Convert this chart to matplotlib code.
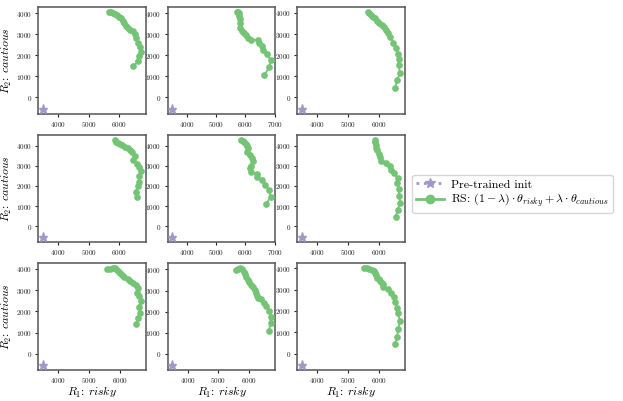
"""
Rewarded soups interpolation fronts, 3x3 grid of seeds.
Output: out.png
"""

import matplotlib
matplotlib.use("Agg")
import matplotlib.pyplot as plt

# ---------------------------------------------------------------------------
# Data: R1 risky vs R2 cautious, per panel
# ---------------------------------------------------------------------------

init_r1 = 3500
init_r2 = -540

rs_r1 = [
    # row 1
    [5650, 5730, 5790, 5850, 5920, 5990, 6050, 6110, 6160, 6210, 6280, 6360,
     6440, 6500, 6560, 6620, 6680, 6710, 6660, 6620, 6450],
    [5700, 5740, 5770, 5790, 5810, 5810, 5830, 5880, 5950, 6020, 6100, 6200,
     6440, 6460, 6560, 6600, 6740, 6860, 6820, 6650],
    [5650, 5700, 5760, 5820, 5880, 5950, 6020, 6100, 6180, 6250, 6310, 6380,
     6480, 6570, 6620, 6660, 6650, 6700, 6610, 6540],
    # row 2
    [5870, 5900, 5960, 6040, 6110, 6200, 6280, 6350, 6430, 6520, 6460, 6580,
     6650, 6720, 6670, 6650, 6620, 6560, 6580],
    [5860, 5920, 5960, 6010, 6040, 6080, 6060, 6150, 6210, 6260, 6180, 6170,
     6200, 6380, 6400, 6580, 6680, 6800, 6860, 6720],
    [5880, 5890, 5910, 5930, 5960, 6000, 6040, 6080, 6240, 6360, 6390, 6490,
     6620, 6600, 6650, 6680, 6700, 6620, 6560],
    # row 3
    [5590, 5700, 5780, 5840, 5900, 5950, 6010, 6080, 6160, 6260, 6340, 6430,
     6520, 6600, 6580, 6640, 6700, 6630, 6660, 6600, 6540],
    [5570, 5640, 5710, 5770, 5820, 5870, 5900, 5950, 6000, 6070, 6120, 6180,
     6230, 6260, 6280, 6400, 6500, 6540, 6650, 6700, 6700, 6650],
    [5540, 5620, 5700, 5780, 5840, 5880, 5920, 5960, 6000, 6060, 6120, 6160,
     6160, 6320, 6410, 6500, 6550, 6600, 6630, 6700, 6640, 6600, 6540],
]

rs_r2 = [
    # row 1
    [4060, 4080, 4040, 3980, 3920, 3850, 3760, 3640, 3520, 3420, 3320, 3230,
     3150, 3000, 2820, 2600, 2380, 2170, 1980, 1720, 1480],
    [4080, 4060, 4000, 3880, 3720, 3550, 3300, 3150, 3050, 2950, 2850, 2750,
     2720, 2600, 2440, 2260, 2050, 1790, 1440, 1070],
    [4060, 4000, 3920, 3830, 3740, 3640, 3540, 3440, 3330, 3200, 3050, 2880,
     2600, 2350, 2050, 1800, 1520, 1170, 830, 450],
    # row 2
    [4280, 4200, 4120, 4060, 4020, 3950, 3860, 3770, 3680, 3500, 3280, 3100,
     2930, 2730, 2470, 2190, 1980, 1710, 1460],
    [4280, 4240, 4180, 4080, 3980, 3860, 3660, 3520, 3400, 3220, 3000, 2880,
     2690, 2600, 2440, 2270, 2050, 1800, 1460, 1090],
    [4280, 4180, 4030, 3880, 3760, 3600, 3430, 3250, 3140, 2980, 2800, 2650,
     2390, 2130, 1850, 1510, 1140, 800, 470],
    # row 3
    [3980, 4000, 4020, 4030, 3980, 3900, 3800, 3700, 3600, 3520, 3440, 3340,
     3240, 3100, 2860, 2700, 2500, 2210, 1940, 1700, 1420],
    [3980, 4010, 4060, 4010, 3900, 3780, 3620, 3500, 3380, 3270, 3150, 3020,
     2880, 2760, 2660, 2580, 2420, 2260, 2050, 1740, 1480, 1100],
    [4000, 3990, 3970, 3930, 3860, 3780, 3690, 3560, 3480, 3400, 3320, 3260,
     3140, 3030, 2860, 2660, 2420, 2130, 1890, 1530, 1160, 770, 450],
]

xlabel = r"$R_1$: $\mathit{risky}$"
ylabel = r"$R_2$: $\mathit{cautious}$"
label_init = "Pre-trained init"
label_rs = (r"RS: $(1-\lambda)\cdot\theta_{risky}"
            r"+\lambda\cdot\theta_{cautious}$")

# ---------------------------------------------------------------------------
# Style
# ---------------------------------------------------------------------------

GREEN = "#74c476"
PURPLE = "#9e9ac8"
SPINE = "#555555"

plt.rcParams.update({
    "font.family": "serif",
    "font.serif": ["cmr10", "DejaVu Serif"],
    "mathtext.fontset": "cm",
    "axes.formatter.use_mathtext": True,
    "axes.edgecolor": SPINE,
    "axes.linewidth": 1.1,
    "xtick.labelsize": 5.2,
    "ytick.labelsize": 5.2,
    "xtick.major.size": 2.5,
    "ytick.major.size": 2.5,
    "xtick.major.pad": 2,
    "ytick.major.pad": 2,
})

fig, axes = plt.subplots(3, 3, figsize=(6.23, 4.01), dpi=100)
fig.subplots_adjust(left=0.061, right=0.650, bottom=0.077, top=0.983,
                    wspace=0.20, hspace=0.20)

for i, ax in enumerate(axes.flat):
    row, col = divmod(i, 3)
    ax.plot(rs_r1[i], rs_r2[i], color=GREEN, linewidth=1.3, marker="o",
            markersize=3.8, zorder=3)
    ax.plot([init_r1], [init_r2], color=PURPLE, linestyle="none",
            marker="*", markersize=6.5, zorder=3)
    ax.margins(0.05)
    if col == 0:
        ax.set_ylabel(ylabel, fontsize=8.5, labelpad=1)
    if row == 2:
        ax.set_xlabel(xlabel, fontsize=8.5, labelpad=0)
    ax.tick_params(colors="#222222")

# legend proxies
h_init, = axes[0, 0].plot([], [], color=PURPLE, linestyle=":", linewidth=2,
                          marker="*", markersize=7, label=label_init)
h_rs, = axes[0, 0].plot([], [], color=GREEN, linewidth=2, marker="o",
                        markersize=6, label=label_rs)
fig.legend(handles=[h_init, h_rs], loc="center left",
           bbox_to_anchor=(0.652, 0.516), fontsize=8.6, framealpha=0.8,
           edgecolor="#cccccc", handlelength=2.3, borderpad=0.35,
           labelspacing=0.2, handletextpad=0.6)

plt.savefig("out.png", dpi=100)
